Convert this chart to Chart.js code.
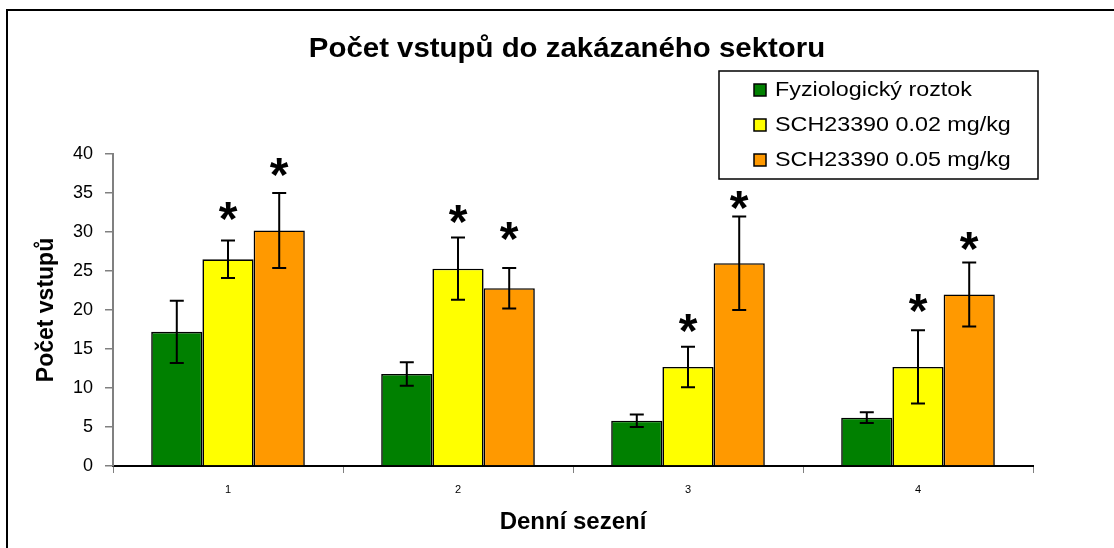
<!DOCTYPE html>
<html>
<head>
<meta charset="utf-8">
<script src="https://cdn.jsdelivr.net/npm/chart.js@4.4.1/dist/chart.umd.min.js"></script>
<style>
  html, body { margin: 0; padding: 0; background: #fff; }
  #wrap { width: 1114px; height: 548px; }
</style>
</head>
<body>
<div id="wrap"><canvas id="chart" width="1114" height="548"></canvas></div>
<script>
const sessions = ['1', '2', '3', '4'];
const seriesNames = ['Fyziologický roztok', 'SCH23390 0.02 mg/kg', 'SCH23390 0.05 mg/kg'];
const seriesColors = ['#008000', '#ffff00', '#ff9900'];

const salineMeans = [17.2, 11.8, 5.8, 6.2];
const salineErrors = [4.0, 1.5, 0.8, 0.7];
const lowDoseMeans = [26.5, 25.3, 12.7, 12.7];
const lowDoseErrors = [2.4, 4.0, 2.6, 4.7];
const highDoseMeans = [30.2, 22.8, 26.0, 22.0];
const highDoseErrors = [4.8, 2.6, 6.0, 4.1];

// where the significance stars sit (y value), null = no star
const salineStars = [null, null, null, null];
const lowDoseStars = [32.2, 31.9, 17.9, 20.5];
const highDoseStars = [37.9, 29.7, 33.7, 28.4];

const yMin = 0;
const yMax = 40;
const yStep = 5;

const chartTitle = 'Počet vstupů do zakázaného sektoru';
const xTitle = 'Denní sezení';
const yTitle = 'Počet vstupů';

const FONT = "Arial, 'Liberation Sans', sans-serif";

function makeSet(i, means, errors, stars) {
  return {
    label: seriesNames[i],
    data: means,
    errors: errors,
    stars: stars,
    backgroundColor: seriesColors[i],
    borderColor: '#000',
    borderWidth: 1.6,
    categoryPercentage: 0.668,
    barPercentage: 1.0,
  };
}

// stretched text helper, the original labels are a bit wider than Arial
function drawText(ctx, text, x, y, font, align, sx) {
  ctx.save();
  ctx.font = font;
  ctx.fillStyle = '#000';
  ctx.textAlign = align;
  ctx.textBaseline = 'alphabetic';
  ctx.translate(x, y);
  ctx.scale(sx, 1);
  ctx.fillText(text, 0, 0);
  ctx.restore();
}

const framePlugin = {
  id: 'frame',
  beforeDraw(chart) {
    const ctx = chart.ctx;
    ctx.save();
    ctx.fillStyle = '#fff';
    ctx.fillRect(0, 0, chart.width, chart.height);
    ctx.strokeStyle = '#000';
    ctx.lineWidth = 2;
    ctx.beginPath();
    ctx.moveTo(7, chart.height);
    ctx.lineTo(7, 10);
    ctx.lineTo(chart.width, 10);
    ctx.stroke();
    ctx.restore();
  },
  afterDraw(chart) {
    const ctx = chart.ctx;
    const area = chart.chartArea;

    drawText(ctx, chartTitle, 567, 57, 'bold 28px ' + FONT, 'center', 1.05);
    drawText(ctx, xTitle, (area.left + area.right) / 2, 529, 'bold 24px ' + FONT, 'center', 1.0);

    ctx.save();
    ctx.font = 'bold 23px ' + FONT;
    ctx.fillStyle = '#000';
    ctx.textAlign = 'center';
    ctx.translate(53, (area.top + area.bottom) / 2);
    ctx.rotate(-Math.PI / 2);
    ctx.fillText(yTitle, 0, 0);
    ctx.restore();

    // legend box
    ctx.save();
    ctx.fillStyle = '#fff';
    ctx.fillRect(719, 71, 319, 108);
    ctx.strokeStyle = '#000';
    ctx.lineWidth = 1.5;
    ctx.strokeRect(719, 71, 319, 108);
    chart.data.datasets.forEach((ds, i) => {
      const base = 96 + i * 35;
      ctx.fillStyle = ds.backgroundColor;
      ctx.fillRect(754, base - 12, 12, 12);
      ctx.strokeStyle = '#000';
      ctx.lineWidth = 1.5;
      ctx.strokeRect(754, base - 12, 12, 12);
      drawText(ctx, ds.label, 775, base, '21px ' + FONT, 'left', 1.11);
    });
    ctx.restore();
  },
  afterDatasetsDraw(chart) {
    const ctx = chart.ctx;
    const y = chart.scales.y;
    ctx.save();
    chart.data.datasets.forEach((ds, i) => {
      const meta = chart.getDatasetMeta(i);
      meta.data.forEach((bar, j) => {
        const v = ds.data[j];
        const e = ds.errors[j];
        const top = y.getPixelForValue(v + e);
        const bot = y.getPixelForValue(v - e);
        ctx.strokeStyle = '#000';
        ctx.lineWidth = 2;
        ctx.beginPath();
        ctx.moveTo(bar.x, top);
        ctx.lineTo(bar.x, bot);
        ctx.moveTo(bar.x - 7, top);
        ctx.lineTo(bar.x + 7, top);
        ctx.moveTo(bar.x - 7, bot);
        ctx.lineTo(bar.x + 7, bot);
        ctx.stroke();

        const s = ds.stars[j];
        if (s != null) {
          const size = 48;
          ctx.font = 'bold ' + size + 'px ' + FONT;
          ctx.fillStyle = '#000';
          ctx.textAlign = 'center';
          ctx.textBaseline = 'alphabetic';
          ctx.fillText('*', bar.x, y.getPixelForValue(s) + size * 0.43);
        }
      });
    });
    ctx.restore();
  },
};

new Chart(document.getElementById('chart'), {
  type: 'bar',
  data: {
    labels: sessions,
    datasets: [
      makeSet(0, salineMeans, salineErrors, salineStars),
      makeSet(1, lowDoseMeans, lowDoseErrors, lowDoseStars),
      makeSet(2, highDoseMeans, highDoseErrors, highDoseStars),
    ],
  },
  options: {
    responsive: false,
    animation: false,
    events: [],
    layout: { padding: { left: 0, right: 81, top: 154, bottom: 0 } },
    plugins: {
      legend: { display: false },
      title: { display: false },
      tooltip: { enabled: false },
    },
    scales: {
      x: {
        grid: { drawOnChartArea: false, drawTicks: true, tickLength: 7, color: '#808080', lineWidth: 1, offset: true },
        border: { display: true, color: '#000', width: 2 },
        ticks: { color: '#000', font: { family: FONT, size: 11 }, padding: 10 },
        afterFit: (scale) => { scale.height = 82; },
      },
      y: {
        min: yMin,
        max: yMax,
        ticks: { stepSize: yStep, color: '#000', font: { family: FONT, size: 18 }, padding: 12 },
        grid: { drawOnChartArea: false, tickLength: 8, color: '#808080', lineWidth: 1.5 },
        border: { display: true, color: '#808080', width: 2 },
        afterFit: (scale) => { scale.width = 113; },
      },
    },
  },
  plugins: [framePlugin],
});
</script>
</body>
</html>
